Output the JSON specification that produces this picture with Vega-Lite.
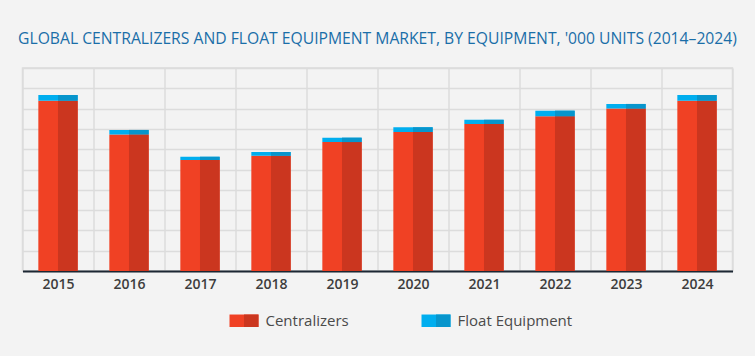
{
  "$schema": "https://vega.github.io/schema/vega-lite/v6.json",
  "autosize": "none",
  "width": 710,
  "height": 203,
  "padding": {"left": 22.5, "top": 68, "right": 22.5, "bottom": 85},
  "background": "#f3f3f3",
  "title": {
    "text": "GLOBAL CENTRALIZERS AND FLOAT EQUIPMENT MARKET, BY EQUIPMENT, '000 UNITS (2014–2024)",
    "anchor": "middle",
    "font": "Open Sans",
    "fontSize": 15.7,
    "fontWeight": "normal",
    "color": "#1a6ea8",
    "baseline": "alphabetic",
    "offset": 8
  },
  "config": {
    "view": {"stroke": "#dcdcdc", "strokeWidth": 1.5, "fill": "#f3f3f3"}
  },
  "data": {
    "values": [
      {"year": "2015", "series": "Centralizers", "value": 83.9},
      {"year": "2015", "series": "Float Equipment", "value": 2.8},
      {"year": "2016", "series": "Centralizers", "value": 67.3},
      {"year": "2016", "series": "Float Equipment", "value": 2.2},
      {"year": "2017", "series": "Centralizers", "value": 54.7},
      {"year": "2017", "series": "Float Equipment", "value": 1.6},
      {"year": "2018", "series": "Centralizers", "value": 56.8},
      {"year": "2018", "series": "Float Equipment", "value": 1.8},
      {"year": "2019", "series": "Centralizers", "value": 63.5},
      {"year": "2019", "series": "Float Equipment", "value": 2.2},
      {"year": "2020", "series": "Centralizers", "value": 68.5},
      {"year": "2020", "series": "Float Equipment", "value": 2.3},
      {"year": "2021", "series": "Centralizers", "value": 72.4},
      {"year": "2021", "series": "Float Equipment", "value": 2.1},
      {"year": "2022", "series": "Centralizers", "value": 76.2},
      {"year": "2022", "series": "Float Equipment", "value": 2.8},
      {"year": "2023", "series": "Centralizers", "value": 80.0},
      {"year": "2023", "series": "Float Equipment", "value": 2.3},
      {"year": "2024", "series": "Centralizers", "value": 83.9},
      {"year": "2024", "series": "Float Equipment", "value": 2.8}
    ]
  },
  "encoding": {
    "x": {
      "field": "year",
      "type": "ordinal",
      "scale": {"paddingInner": 0, "paddingOuter": 0},
      "axis": {
        "title": null,
        "labelAngle": 0,
        "labelFont": "Open Sans",
        "labelFontSize": 14,
        "labelFontWeight": 600,
        "labelColor": "#3d3d3d",
        "labelPadding": 6,
        "ticks": false,
        "tickBand": "extent",
        "grid": true,
        "gridColor": "#dcdcdc",
        "gridWidth": 1.5,
        "domainColor": "#1c2733",
        "domainWidth": 2
      }
    },
    "y": {
      "field": "value",
      "type": "quantitative",
      "stack": "zero",
      "scale": {"domain": [0, 100], "nice": false},
      "axis": {
        "title": null,
        "labels": false,
        "ticks": false,
        "domain": false,
        "grid": true,
        "tickCount": 10,
        "gridColor": "#dcdcdc",
        "gridWidth": 1.5
      }
    },
    "order": {"field": "series"}
  },
  "layer": [
    {
      "mark": {"type": "bar", "width": {"band": 0.554}},
      "encoding": {
        "color": {
          "field": "series",
          "type": "nominal",
          "scale": {
            "domain": ["Centralizers", "Float Equipment"],
            "range": ["#f04124", "#00aeef"]
          },
          "legend": {
            "title": null,
            "orient": "none",
            "direction": "horizontal",
            "legendX": 207,
            "legendY": 238,
            "symbolType": "M-1,-0.43H1V0.43H-1Z",
            "symbolSize": 841,
            "symbolStrokeWidth": 0,
            "symbolOpacity": 1,
            "labelFont": "Open Sans",
            "labelFontSize": 15,
            "labelColor": "#4a4a4a",
            "labelOffset": 7,
            "columnPadding": 72,
            "labelLimit": 300,
            "zindex": 1
          }
        }
      }
    },
    {
      "mark": {"type": "bar", "width": {"band": 0.277}, "xOffset": 9.83},
      "encoding": {
        "color": {
          "field": "series",
          "type": "nominal",
          "scale": {
            "domain": ["Centralizers", "Float Equipment"],
            "range": ["#cb361f", "#0795cc"]
          },
          "legend": {
            "title": null,
            "orient": "none",
            "direction": "horizontal",
            "legendX": 207,
            "legendY": 238,
            "symbolType": "M-1,0M0,-0.43H1V0.43H0Z",
            "symbolSize": 841,
            "symbolStrokeWidth": 0,
            "symbolOpacity": 1,
            "labelFont": "Open Sans",
            "labelFontSize": 15,
            "labelColor": "transparent",
            "labelOffset": 7,
            "columnPadding": 72,
            "labelLimit": 300,
            "zindex": 2
          }
        }
      }
    }
  ],
  "resolve": {"scale": {"color": "independent"}, "legend": {"color": "independent"}}
}
